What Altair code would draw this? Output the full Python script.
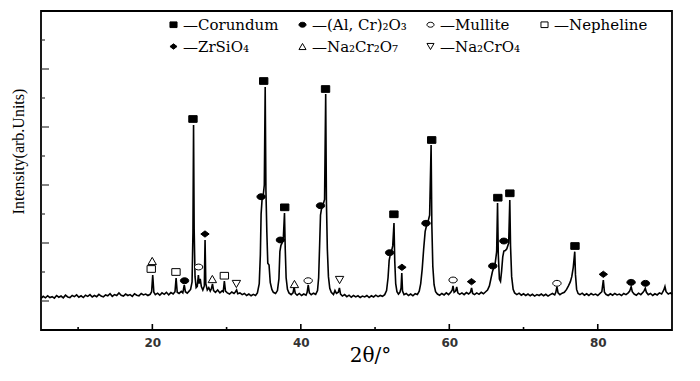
import altair as alt
import pandas as pd

# ---- XRD pattern: [2θ (deg), intensity (counts)] ----
scan_05_20 = [
    [5.0, 45], [5.3, 80], [5.6, 55], [5.9, 90], [6.2, 60], [6.5, 75], [6.8, 50], [7.1, 95],
    [7.4, 65], [7.7, 85], [8.0, 55], [8.3, 100], [8.6, 70], [8.9, 60], [9.2, 95], [9.5, 75],
    [9.8, 105], [10.1, 65], [10.4, 90], [10.7, 60], [11.0, 100], [11.3, 80], [11.6, 110],
    [11.9, 70], [12.2, 95], [12.5, 75], [12.8, 115], [13.1, 85], [13.4, 70], [13.7, 105],
    [14.0, 90], [14.3, 125], [14.6, 80], [14.9, 110], [15.2, 95], [15.5, 140], [15.8, 100],
    [16.1, 85], [16.4, 120], [16.7, 95], [17.0, 110], [17.3, 80], [17.6, 125], [17.9, 100],
    [18.2, 90], [18.5, 130], [18.8, 105], [19.1, 120], [19.4, 95], [19.7, 115],
]
scan_20_34 = [
    [19.9, 160], [20.05, 448], [20.2, 150], [20.4, 110], [20.7, 135], [21.0, 100], [21.3, 140],
    [21.6, 115], [21.9, 150], [22.2, 105], [22.5, 145], [22.8, 120], [23.05, 160], [23.2, 397],
    [23.35, 150], [23.6, 130], [23.9, 165], [24.1, 140], [24.3, 276], [24.45, 160], [24.7, 135],
    [24.95, 170], [25.15, 200], [25.35, 330], [25.47, 1190], [25.55, 3034], [25.63, 1250],
    [25.75, 420], [25.9, 230], [26.05, 250], [26.2, 448], [26.3, 300], [26.45, 380], [26.6, 250],
    [26.8, 190], [27.0, 260], [27.1, 1052], [27.2, 300], [27.4, 190], [27.6, 230], [27.8, 170],
    [27.95, 210], [28.1, 293], [28.25, 180], [28.5, 150], [28.8, 190], [29.1, 140], [29.4, 175],
    [29.55, 160], [29.7, 345], [29.85, 170], [30.1, 140], [30.4, 120], [30.7, 155], [31.0, 130],
    [31.2, 160], [31.35, 190], [31.5, 125], [31.8, 140], [32.1, 110], [32.4, 130], [32.7, 95],
    [33.0, 120], [33.3, 90], [33.6, 115], [33.9, 95],
]
scan_34_45 = [
    [34.15, 140], [34.4, 300], [34.55, 800], [34.65, 1500], [34.78, 1750], [34.92, 1800],
    [35.08, 2000], [35.2, 3689], [35.3, 1900], [35.42, 1200], [35.55, 650], [35.72, 620],
    [35.88, 320], [36.1, 200], [36.3, 150], [36.6, 130], [36.85, 180], [37.05, 380], [37.18, 850],
    [37.32, 960], [37.48, 1000], [37.65, 1100], [37.8, 1517], [37.9, 900], [38.02, 400],
    [38.2, 200], [38.4, 140], [38.7, 110], [38.95, 140], [39.1, 241], [39.25, 130], [39.5, 100],
    [39.8, 130], [40.1, 95], [40.4, 120], [40.7, 100], [40.85, 150], [41.0, 276], [41.15, 140],
    [41.4, 110], [41.7, 135], [42.0, 115], [42.25, 180], [42.4, 400], [42.53, 950], [42.65, 1480],
    [42.8, 1600], [42.98, 1650], [43.2, 1750], [43.35, 3570], [43.45, 1700], [43.57, 900],
    [43.72, 420], [43.9, 220], [44.1, 150], [44.4, 110], [44.6, 180], [44.8, 130],
]
scan_45_60 = [
    [45.05, 150], [45.2, 224], [45.35, 120], [45.6, 85], [45.9, 110], [46.2, 75], [46.5, 100],
    [46.8, 65], [47.1, 95], [47.4, 70], [47.7, 90], [48.0, 60], [48.3, 85], [48.6, 70], [48.9, 95],
    [49.2, 60], [49.5, 90], [49.8, 70], [50.1, 100], [50.4, 75], [50.7, 95], [51.0, 80],
    [51.3, 110], [51.55, 180], [51.75, 400], [51.9, 700], [52.05, 800], [52.2, 850], [52.38, 950],
    [52.55, 1345], [52.65, 700], [52.78, 300], [52.95, 160], [53.15, 120], [53.35, 150],
    [53.5, 220], [53.6, 483], [53.7, 170], [53.9, 110], [54.2, 130], [54.5, 95], [54.8, 120],
    [55.1, 90], [55.4, 125], [55.7, 110], [55.95, 170], [56.15, 300], [56.35, 550], [56.55, 900],
    [56.75, 1200], [56.9, 1280], [57.1, 1350], [57.35, 1480], [57.55, 2689], [57.65, 1300],
    [57.78, 600], [57.95, 280], [58.15, 160], [58.4, 120], [58.7, 100], [59.0, 130], [59.3, 105],
    [59.6, 140], [59.9, 110],
]
scan_60_70 = [
    [60.2, 150], [60.4, 190], [60.5, 259], [60.65, 150], [60.85, 170], [61.0, 241], [61.15, 140],
    [61.4, 115], [61.7, 140], [62.0, 110], [62.3, 145], [62.6, 120], [62.85, 150], [63.0, 224],
    [63.15, 130], [63.4, 110], [63.7, 140], [64.0, 115], [64.3, 150], [64.6, 125], [64.9, 160],
    [65.15, 190], [65.4, 260], [65.6, 380], [65.8, 500], [65.95, 560], [66.15, 620], [66.38, 850],
    [66.5, 1690], [66.6, 800], [66.75, 380], [66.9, 340], [67.05, 520], [67.2, 760],
    [67.35, 860], [67.55, 870], [67.75, 900], [68.0, 1000], [68.15, 1741], [68.25, 950],
    [68.4, 420], [68.6, 200], [68.8, 140], [69.1, 110], [69.4, 135], [69.7, 100],
]
scan_70_90 = [
    [70.0, 125], [70.3, 95], [70.6, 120], [70.9, 90], [71.2, 115], [71.5, 85], [71.8, 110],
    [72.1, 95], [72.4, 120], [72.7, 90], [73.0, 115], [73.3, 85], [73.6, 110], [73.9, 130],
    [74.2, 105], [74.35, 150], [74.5, 247], [74.65, 140], [74.9, 110], [75.2, 135], [75.5, 150],
    [75.8, 200], [76.05, 260], [76.3, 330], [76.5, 420], [76.7, 580], [76.9, 850], [77.0, 450],
    [77.15, 200], [77.35, 130], [77.6, 110], [77.9, 135], [78.2, 100], [78.5, 125], [78.8, 95],
    [79.1, 130], [79.4, 105], [79.7, 120], [80.0, 95], [80.3, 130], [80.55, 160], [80.75, 362],
    [80.9, 150], [81.1, 115], [81.4, 95], [81.7, 125], [82.0, 100], [82.3, 130], [82.6, 105],
    [82.9, 120], [83.2, 95], [83.5, 130], [83.8, 110], [84.1, 140], [84.3, 170], [84.5, 247],
    [84.65, 160], [84.9, 120], [85.2, 100], [85.5, 135], [85.8, 110], [86.1, 150], [86.25, 180],
    [86.4, 219], [86.55, 150], [86.8, 110], [87.1, 130], [87.4, 95], [87.7, 125], [88.0, 105],
    [88.3, 140], [88.6, 120], [88.9, 190], [89.05, 250], [89.2, 160], [89.5, 120], [89.8, 140],
    [90.0, 115],
]

# ---- phase identification markers (2θ, intensity where the symbol sits) ----
phases = ["Corundum", "(Al, Cr)₂O₃", "Mullite", "Nepheline", "ZrSiO₄", "Na₂Cr₂O₇", "Na₂CrO₄"]

corundum_2theta = [25.47, 35.0, 37.83, 43.33, 52.54, 57.63, 66.54, 68.16, 76.93]
corundum_int = [3138, 3793, 1615, 3655, 1495, 2776, 1781, 1857, 948]
alcr_2theta = [24.34, 34.65, 37.25, 42.65, 51.96, 56.86, 65.86, 67.35, 84.49, 86.42]
alcr_int = [350, 1798, 1052, 1643, 833, 1340, 603, 1034, 322, 305]
mullite_2theta = [26.23, 40.99, 60.51, 74.5]
mullite_int = [586, 350, 362, 305]
nepheline_2theta = [19.85, 23.18, 29.70]
nepheline_int = [552, 500, 436]
zrsio4_2theta = [27.09, 53.62, 62.99, 80.75]
zrsio4_int = [1155, 581, 333, 460]
na2cr2o7_2theta = [19.98, 28.08, 39.14]
na2cr2o7_int = [690, 379, 293]
na2cro4_2theta = [31.32, 45.22]
na2cro4_int = [293, 362]

# axis tick values
x_major_ticks = [20, 40, 60, 80]
x_minor_ticks = [10, 30, 50, 70]
y_major_ticks = [0, 1000, 2000, 3000, 4000]
y_minor_ticks = [500, 1500, 2500, 3500, 4500]

# ---- build tables ----
scan = scan_05_20 + scan_20_34 + scan_34_45 + scan_45_60 + scan_60_70 + scan_70_90
df_scan = pd.DataFrame(scan, columns=["two_theta", "intensity"])

marker_sets = [
    (phases[0], corundum_2theta, corundum_int),
    (phases[1], alcr_2theta, alcr_int),
    (phases[2], mullite_2theta, mullite_int),
    (phases[3], nepheline_2theta, nepheline_int),
    (phases[4], zrsio4_2theta, zrsio4_int),
    (phases[5], na2cr2o7_2theta, na2cr2o7_int),
    (phases[6], na2cro4_2theta, na2cro4_int),
]
rows = []
for name, xs, ys in marker_sets:
    for a, b in zip(xs, ys):
        rows.append({"phase": name, "two_theta": a, "intensity": b})
df_mark = pd.DataFrame(rows)

# ---- styling ----
RECT = "M -1 -0.8 L 1 -0.8 L 1 0.8 L -1 0.8 Z"
ELLIPSE = "M -1 0 A 1 0.7 0 1 1 1 0 A 1 0.7 0 1 1 -1 0 Z"
DIAMOND = "M -1 0 L 0 -0.75 L 1 0 L 0 0.75 Z"
shape_range = [RECT, ELLIPSE, ELLIPSE, RECT, DIAMOND, "triangle-up", "triangle-down"]
fill_range = ["black", "black", "white", "white", "black", "white", "white"]
stroke_range = ["black"] * 7

x_scale = alt.Scale(domain=[5, 90], nice=False, zero=False)
y_scale = alt.Scale(domain=[-500, 5000], nice=False, zero=False)

x_axis = alt.Axis(
    values=x_major_ticks, title="2θ/°", grid=False, ticks=False, tickSize=0, domain=False,
    labelFont="DejaVu Sans", labelFontSize=12, labelFontWeight="bold", labelColor="#333333",
    labelPadding=7, titleFont="DejaVu Serif", titleFontSize=20, titleFontWeight="normal",
    titleColor="black", titleX=329, titleY=25, titleBaseline="middle", titleAlign="center",
)
y_axis = alt.Axis(
    title="Intensity(arb.Units)", labels=False, ticks=False, tickSize=0, domain=False, grid=False,
    titleFont="Liberation Serif", titleFontSize=16, titleFontWeight="normal", titleColor="black",
    titleAngle=270, titleX=-23, titleY=140, titleAlign="center", titleBaseline="middle",
)

X = lambda: alt.X("two_theta:Q", scale=x_scale, axis=x_axis)
Y = lambda: alt.Y("intensity:Q", scale=y_scale, axis=y_axis)

line = alt.Chart(df_scan).mark_line(color="black", strokeWidth=1.6).encode(x=X(), y=Y())

legend = alt.Legend(
    title=None, orient="none", legendX=125, legendY=6, columns=4, direction="horizontal",
    gridAlign="each", columnPadding=16, rowPadding=6, labelFont="DejaVu Serif",
    labelFontSize=15, labelColor="black", labelLimit=400, labelOffset=2, symbolSize=50,
    symbolStrokeColor="black", symbolStrokeWidth=1, labelExpr="'—' + datum.label",
)

markers = alt.Chart(df_mark).mark_point(
    filled=True, strokeWidth=1, size=70, opacity=1
).encode(
    x=X(), y=Y(),
    shape=alt.Shape("phase:N", scale=alt.Scale(domain=phases, range=shape_range), legend=legend),
    fill=alt.Fill("phase:N", scale=alt.Scale(domain=phases, range=fill_range), legend=legend),
    stroke=alt.Stroke("phase:N", scale=alt.Scale(domain=phases, range=stroke_range), legend=legend),
)

df_xmaj = pd.DataFrame({"two_theta": x_major_ticks})
df_xmin = pd.DataFrame({"two_theta": x_minor_ticks})
df_ymaj = pd.DataFrame({"intensity": y_major_ticks})
df_ymin = pd.DataFrame({"intensity": y_minor_ticks})

xt_major = alt.Chart(df_xmaj).mark_rule(color="black", strokeWidth=1.6).encode(
    x=X(), y=alt.value(319), y2=alt.value(313))
xt_minor = alt.Chart(df_xmin).mark_rule(color="black", strokeWidth=1.6).encode(
    x=X(), y=alt.value(319), y2=alt.value(316))
yt_major = alt.Chart(df_ymaj).mark_rule(color="#333333", strokeWidth=1.2).encode(
    y=Y(), x=alt.value(0), x2=alt.value(8))
yt_minor = alt.Chart(df_ymin).mark_rule(color="#333333", strokeWidth=1.2).encode(
    y=Y(), x=alt.value(0), x2=alt.value(4))

chart = alt.layer(line, xt_major, xt_minor, yt_major, yt_minor, markers).properties(
    width=631, height=319,
    autosize=alt.AutoSizeParams(type="none"),
    padding={"left": 33, "top": 3, "right": 20, "bottom": 43},
    background="white",
).configure_view(stroke="black", strokeWidth=1.8)

chart.save("out.html", embed_options={"renderer": "svg", "actions": False})
